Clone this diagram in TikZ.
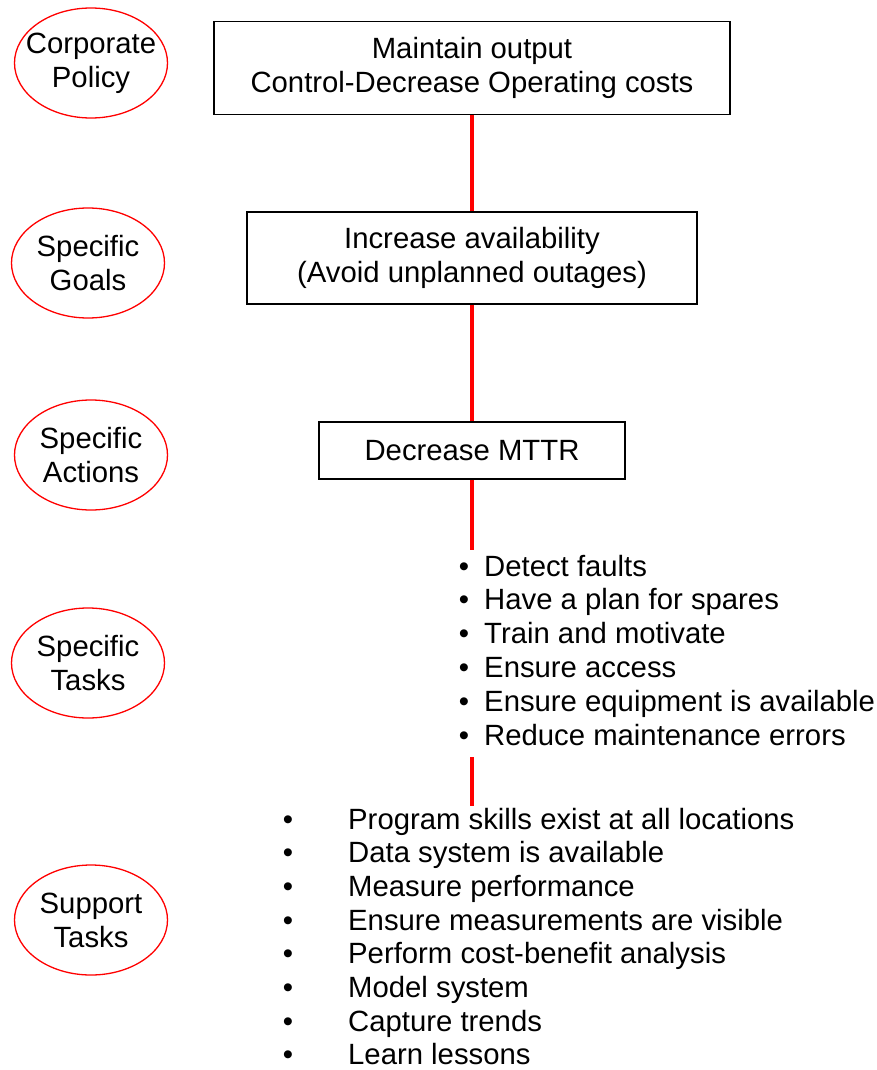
\documentclass[tikz,border=0pt]{standalone}
\usepackage{fontspec}
\setmainfont{Liberation Sans}
\usetikzlibrary{shapes.geometric}
\newcommand\chartfont{\fontsize{29.3}{34}\selectfont}
\begin{document}
\begin{tikzpicture}[x=1pt,y=-1pt,
  levelmark/.style={ellipse,draw=red,line width=1.3pt,minimum width=153pt,
    minimum height=110pt,inner sep=0pt},
  leveltext/.style={inner sep=0pt,align=center,font=\chartfont},
  stagebox/.style={draw=black,line width=1.8pt,inner sep=0pt,align=center,
    font=\chartfont},
  link/.style={draw=red,line width=4pt},
  itemtext/.style={anchor=base west,inner sep=0pt,font=\chartfont},
  bulletmark/.style={anchor=base,inner sep=0pt,font=\chartfont}]
\useasboundingbox (0,0) rectangle (876,1070);

% level labels on the left
\node[levelmark] (policy)  at (91,63)  {};
\node[levelmark] (goals)   at (88,263) {};
\node[levelmark] (actions) at (91,455) {};
\node[levelmark] (tasks)   at (88,663) {};
\node[levelmark] (support) at (91,920) {};
\node[leveltext] (policyT)  at (policy)  {Corporate\\Policy};
\node[leveltext] (goalsT)   at (goals)   {Specific\\Goals};
\node[leveltext] (actionsT) at (actions) {Specific\\Actions};
\node[leveltext] (tasksT)   at (tasks)   {Specific\\Tasks};
\node[leveltext] (supportT) at (support) {Support\\Tasks};

% boxes of the main chain
\node[stagebox,minimum width=516pt,minimum height=93pt] (output) at (472,68)
  {Maintain output\\Control-Decrease Operating costs};
\node[stagebox,minimum width=450pt,minimum height=92pt] (avail) at (472,258)
  {Increase availability\\(Avoid unplanned outages)};
\node[stagebox,minimum width=306pt,minimum height=57pt] (mttr) at (472,450.5)
  {Decrease MTTR};

% specific tasks
\foreach \t [count=\i from 0] in {Detect faults,Have a plan for spares,
    Train and motivate,Ensure access,Ensure equipment is available,
    Reduce maintenance errors}{
  \node[bulletmark] (tb\i) at (464,576+33.8*\i) {\textbullet};
  \node[itemtext] (tk\i) at (484,576+33.8*\i) {\t};
}

% support tasks
\foreach \t [count=\i from 0] in {Program skills exist at all locations,
    Data system is available,Measure performance,
    Ensure measurements are visible,Perform cost-benefit analysis,
    Model system,Capture trends,Learn lessons}{
  \node[bulletmark] (sb\i) at (288,829+33.7*\i) {\textbullet};
  \node[itemtext] (sk\i) at (348,829+33.7*\i) {\t};
}

% red connectors
\coordinate (tasksTop) at (472,550);
\coordinate (supportFrom) at (472,757);
\coordinate (supportTo) at (472,806);
\draw[link] (output.south) -- (avail.north);
\draw[link] (avail.south) -- (mttr.north);
\draw[link] (mttr.south) -- (tasksTop);
\draw[link] (supportFrom) -- (supportTo);
\end{tikzpicture}
\end{document}
